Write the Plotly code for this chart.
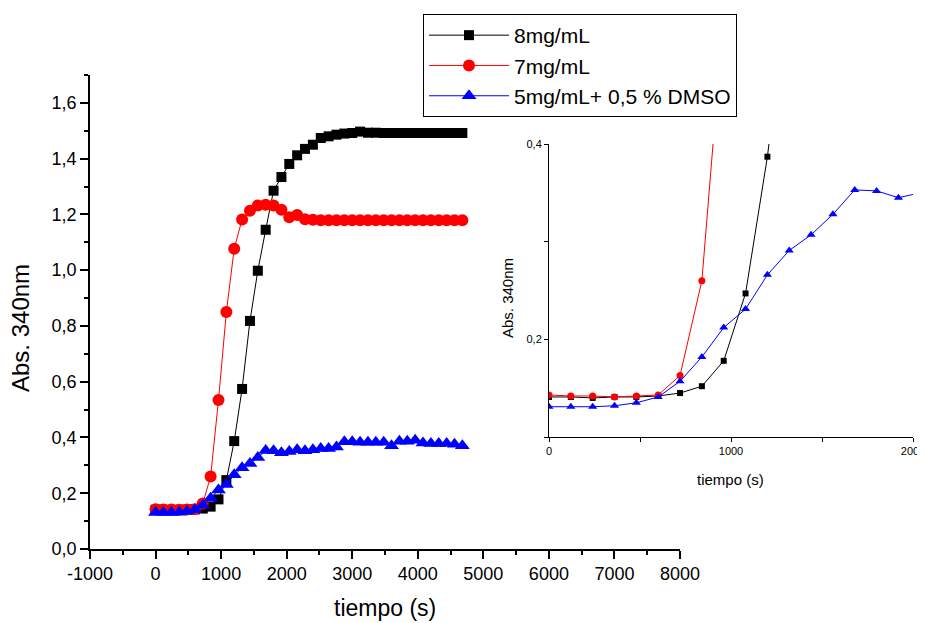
import plotly.graph_objects as go

# ---- data ----
tiempo = [0, 120, 240, 360, 480, 600, 720, 840, 960, 1080, 1200, 1320, 1440, 1560,
          1680, 1800, 1920, 2040, 2160, 2280, 2400, 2520, 2640, 2760, 2880, 3000,
          3120, 3240, 3360, 3480, 3600, 3720, 3840, 3960, 4080, 4200, 4320, 4440,
          4560, 4680]

abs_8mg = [0.141, 0.141, 0.140, 0.141, 0.141, 0.142, 0.145, 0.152, 0.178, 0.247,
           0.387, 0.574, 0.818, 0.998, 1.145, 1.285, 1.334, 1.381, 1.412, 1.435,
           1.450, 1.474, 1.480, 1.486, 1.490, 1.492, 1.497, 1.493, 1.493, 1.492,
           1.492, 1.492, 1.492, 1.492, 1.492, 1.492, 1.492, 1.492, 1.492, 1.492]

abs_7mg = [0.143, 0.142, 0.142, 0.141, 0.142, 0.143, 0.163, 0.260, 0.534, 0.850,
           1.077, 1.182, 1.213, 1.232, 1.235, 1.232, 1.217, 1.190, 1.198, 1.183,
           1.181, 1.179, 1.179, 1.179, 1.179, 1.179, 1.179, 1.179, 1.179, 1.179,
           1.179, 1.179, 1.179, 1.179, 1.179, 1.179, 1.179, 1.179, 1.179, 1.179]

abs_5mg_dmso = [0.131, 0.131, 0.131, 0.132, 0.135, 0.141, 0.157, 0.182, 0.212, 0.231,
                0.266, 0.291, 0.307, 0.328, 0.353, 0.352, 0.345, 0.350, 0.356, 0.352,
                0.356, 0.360, 0.360, 0.366, 0.385, 0.385, 0.383, 0.383, 0.383, 0.383,
                0.370, 0.386, 0.386, 0.390, 0.380, 0.378, 0.378, 0.378, 0.376, 0.370]

series_names = ["8mg/mL", "7mg/mL", "5mg/mL+ 0,5 % DMSO"]

x_tick_vals = [-1000, 0, 1000, 2000, 3000, 4000, 5000, 6000, 7000, 8000]
x_tick_text = ["-1000", "0", "1000", "2000", "3000", "4000", "5000", "6000", "7000", "8000"]
y_tick_vals = [0.0, 0.2, 0.4, 0.6, 0.8, 1.0, 1.2, 1.4, 1.6]
y_tick_text = ["0,0", "0,2", "0,4", "0,6", "0,8", "1,0", "1,2", "1,4", "1,6"]

inset_x_vals = [0, 500, 1000, 1500, 2000]
inset_x_text = ["0", "", "1000", "", "2000"]
inset_y_vals = [0.1, 0.2, 0.3, 0.4]
inset_y_text = ["", "0,2", "", "0,4"]

# ---- figure ----
# the page body has an 8px margin, so the figure is offset by 8px
OFF = 8
W, H = 925 - OFF, 623 - OFF
FONT = "Liberation Sans, Arial, sans-serif"
colors = ["#000000", "#FF0000", "#0000FF"]
symbols = ["square", "circle", "triangle-up"]
main_sizes = [10, 12, 13]
inset_sizes = [6, 7, 8]
ys = [abs_8mg, abs_7mg, abs_5mg_dmso]

fig = go.Figure()
for name, y, c, s, ms in zip(series_names, ys, colors, symbols, main_sizes):
    fig.add_trace(go.Scatter(x=tiempo, y=y, name=name, mode="lines+markers",
                             line=dict(color=c, width=1),
                             marker=dict(symbol=s, size=ms, color=c),
                             xaxis="x", yaxis="y"))
for name, y, c, s, ms in zip(series_names, ys, colors, symbols, inset_sizes):
    fig.add_trace(go.Scatter(x=tiempo, y=y, name=name, mode="lines+markers",
                             line=dict(color=c, width=1),
                             marker=dict(symbol=s, size=ms, color=c),
                             showlegend=False, xaxis="x2", yaxis="y2"))

def px_x(p):
    return (p - OFF) / W

def px_y(p):
    return 1 - (p - OFF) / H

axis_common = dict(showline=True, linecolor="black", showgrid=False, zeroline=False,
                   ticks="outside", tickcolor="black", mirror=False, automargin=False,
                   ticklabeloverflow="allow")

fig.update_layout(
    width=W, height=H,
    margin=dict(l=0, r=0, t=0, b=0, autoexpand=False),
    paper_bgcolor="white", plot_bgcolor="white",
    font=dict(family=FONT, color="black"),
    xaxis=dict(domain=[px_x(90), px_x(680)], range=[-1000, 8000], anchor="y",
               tickvals=x_tick_vals, ticktext=x_tick_text, ticklen=8, tickwidth=1.5,
               linewidth=1.5, tickfont=dict(size=18),
               minor=dict(dtick=500, tick0=0, ticklen=4, tickwidth=1.5, ticks="outside",
                          tickcolor="black", showgrid=False),
               **axis_common),
    yaxis=dict(domain=[px_y(549), px_y(75)], range=[0, 1.7], anchor="x",
               tickvals=y_tick_vals, ticktext=y_tick_text, ticklen=8, tickwidth=1.5,
               linewidth=1.5, tickfont=dict(size=18),
               minor=dict(dtick=0.1, tick0=0, ticklen=4, tickwidth=1.5, ticks="outside",
                          tickcolor="black", showgrid=False),
               **axis_common),
    xaxis2=dict(domain=[px_x(549), px_x(913)], range=[0, 2000], anchor="y2",
                tickvals=inset_x_vals, ticktext=inset_x_text, ticklen=4, tickwidth=1,
                linewidth=1, tickfont=dict(size=11), **axis_common),
    yaxis2=dict(domain=[px_y(437), px_y(144)], range=[0.1, 0.4], anchor="x2",
                tickvals=inset_y_vals, ticktext=inset_y_text, ticklen=4, tickwidth=1,
                linewidth=1, tickfont=dict(size=11), **axis_common),
    legend=dict(x=px_x(423), y=px_y(14), xanchor="left", yanchor="top",
                bordercolor="black", borderwidth=1, bgcolor="white",
                font=dict(size=21), tracegroupgap=0, itemwidth=80, entrywidth=340),
    showlegend=True,
    annotations=[
        dict(text="Abs. 340nm", x=px_x(20), y=px_y(328), xref="paper", yref="paper",
             xanchor="center", yanchor="middle",
             showarrow=False, textangle=-90, font=dict(size=24)),
        dict(text="tiempo (s)", x=px_x(385), y=px_y(608), xref="paper", yref="paper",
             xanchor="center", yanchor="middle",
             showarrow=False, font=dict(size=23)),
        dict(text="Abs. 340nm", x=px_x(507), y=px_y(298), xref="paper", yref="paper",
             xanchor="center", yanchor="middle",
             showarrow=False, textangle=-90, font=dict(size=15)),
        dict(text="tiempo (s)", x=px_x(730), y=px_y(479), xref="paper", yref="paper",
             xanchor="center", yanchor="middle",
             showarrow=False, font=dict(size=15)),
    ],
)

fig.write_html("out.html")
